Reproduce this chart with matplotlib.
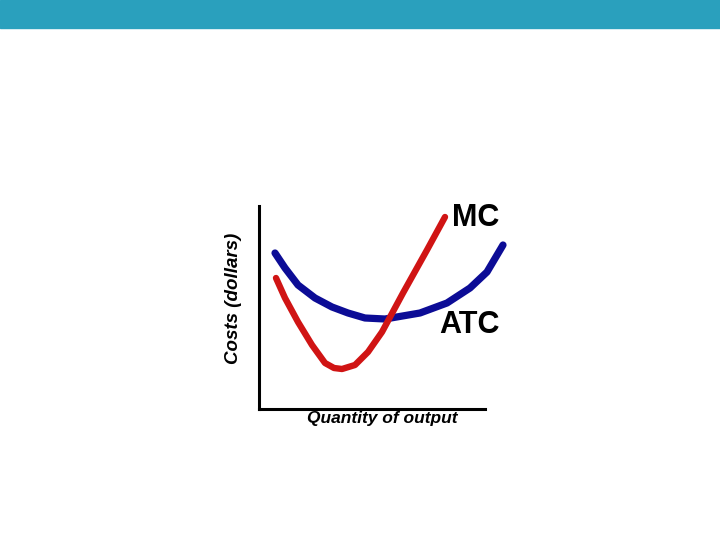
import matplotlib.pyplot as plt
from matplotlib.patches import Rectangle

# curve points (quantity, cost)
atc_q = [16, 26, 39, 56, 73, 89, 106, 126, 161, 188, 211, 228, 244]
atc_c = [156, 141, 124, 111, 102, 96, 91, 90, 96, 106, 121, 137, 164]
mc_q = [17, 26, 39, 53, 66, 75, 83, 96, 109, 123, 144, 168, 186]
mc_c = [131, 111, 87, 64, 46, 41, 40, 44, 57, 77, 116, 159, 192]

fig = plt.figure(figsize=(7.2, 5.4), dpi=100)
fig.patches.append(Rectangle((0, 1 - 28 / 540), 1, 28 / 540, transform=fig.transFigure,
                             color="#2aa0bd", zorder=0))

ax = fig.add_axes([259 / 720, 131 / 540, 251 / 720, 214 / 540])
ax.set_xlim(0, 251)
ax.set_ylim(0, 214)
ax.patch.set_alpha(0)

ax.plot(atc_q, atc_c, color="#0c0c96", lw=5.2, solid_capstyle="round",
        solid_joinstyle="round", clip_on=False)
ax.plot(mc_q, mc_c, color="#d01414", lw=4.6, solid_capstyle="round",
        solid_joinstyle="round", clip_on=False)

for s in ["top", "right"]:
    ax.spines[s].set_visible(False)
ax.spines["left"].set_bounds(0, 203)
ax.spines["bottom"].set_bounds(0, 226)
ax.spines["left"].set_linewidth(2.2)
ax.spines["bottom"].set_linewidth(2.2)
ax.set_xticks([])
ax.set_yticks([])

font = "Liberation Sans"
ax.text(193, 183, "MC", fontsize=22, fontweight="bold", family=font,
        ha="left", va="baseline")
ax.text(180, 76, "ATC", fontsize=22, fontweight="bold", family=font,
        ha="left", va="baseline")
ax.text(-26, 111, "Costs (dollars)", fontsize=13.5, fontweight="bold", style="italic",
        family=font, rotation=90, ha="center", va="center")
ax.text(123, -9, "Quantity of output", fontsize=12.5, fontweight="bold", style="italic",
        family=font, ha="center", va="center")

fig.savefig("out.png", dpi=100)
